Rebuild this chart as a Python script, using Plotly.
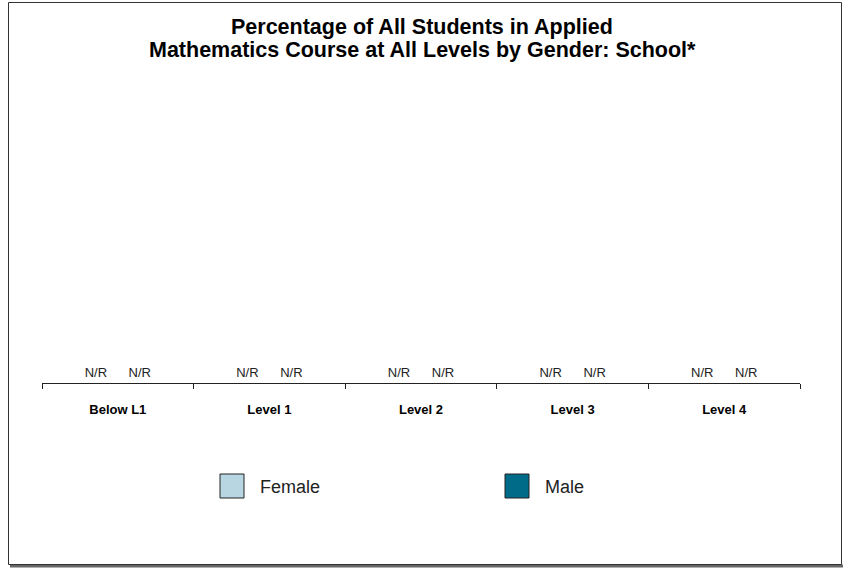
import plotly.graph_objects as go

W, H = 850, 568

categories = ["Below L1", "Level 1", "Level 2", "Level 3", "Level 4"]
female_values = [0, 0, 0, 0, 0]          # not reported
male_values = [0, 0, 0, 0, 0]            # not reported
female_labels = ["N/R"] * 5
male_labels = ["N/R"] * 5
series_names = ["Female", "Male"]
series_colors = ["#b7d6e1", "#006a89"]
title_lines = ["Percentage of All Students in Applied",
               "Mathematics Course at All Levels by Gender: School*"]

FONT = "Liberation Sans, Arial, sans-serif"

def px_x(x):
    return x / W

def px_y(y):
    return 1 - y / H

fig = go.Figure()
for vals, labels, name, color in [
    (female_values, female_labels, series_names[0], series_colors[0]),
    (male_values, male_labels, series_names[1], series_colors[1]),
]:
    fig.add_trace(go.Bar(
        x=categories, y=vals, name=name,
        marker=dict(color=color, line=dict(width=0)),
        text=labels, textposition="outside",
        textfont=dict(family=FONT, size=13, color="#222"),
        cliponaxis=False, showlegend=False,
    ))

fig.update_layout(
    width=W, height=H,
    margin=dict(l=0, r=0, t=0, b=0),
    paper_bgcolor="white", plot_bgcolor="white",
    barmode="group", bargap=0.42, bargroupgap=0,
    showlegend=False,
    font=dict(family=FONT, color="#222"),
    xaxis=dict(
        domain=[px_x(42), px_x(800)],
        type="category",
        showline=True, linecolor="#222", linewidth=1,
        ticks="outside", tickson="boundaries", ticklen=5, tickcolor="#222",
        tickfont=dict(family=FONT, size=13, color="#000", weight="bold"),
        ticklabelstandoff=14,
        showgrid=False, zeroline=False,
        anchor="y",
    ),
    yaxis=dict(
        domain=[px_y(383), px_y(80)],
        range=[0, 100], visible=False, showgrid=False, zeroline=False,
    ),
)

# title (two lines, tight spacing)
for yy, line in zip([27, 50], title_lines):
    fig.add_annotation(
        xref="paper", yref="paper", x=px_x(422), y=px_y(yy),
        text="<b>" + line + "</b>",
        showarrow=False, xanchor="center", yanchor="middle",
        font=dict(family=FONT, size=21.5, color="#000"),
    )

# frame with shadow
fig.add_shape(type="line", xref="paper", yref="paper",
              x0=px_x(10), x1=px_x(843), y0=px_y(566), y1=px_y(566),
              line=dict(color="#666", width=3))
fig.add_shape(type="rect", xref="paper", yref="paper",
              x0=px_x(8.5), x1=px_x(841.5), y0=px_y(564.5), y1=px_y(2.5),
              line=dict(color="#333", width=1))

# legend
legend_items = [(220, series_names[0], series_colors[0]), (505, series_names[1], series_colors[1])]
for x0, name, color in legend_items:
    fig.add_shape(type="rect", xref="paper", yref="paper",
                  x0=px_x(x0), x1=px_x(x0 + 24), y0=px_y(498), y1=px_y(474),
                  fillcolor=color, line=dict(color="#222", width=1))
    fig.add_annotation(xref="paper", yref="paper", x=px_x(x0 + 38), y=px_y(487),
                       text=name, showarrow=False, xanchor="left", yanchor="middle",
                       font=dict(family=FONT, size=18, color="#222"))

fig.write_html("out.html", config={"displayModeBar": False},
               post_script="document.body.style.margin='0';")
